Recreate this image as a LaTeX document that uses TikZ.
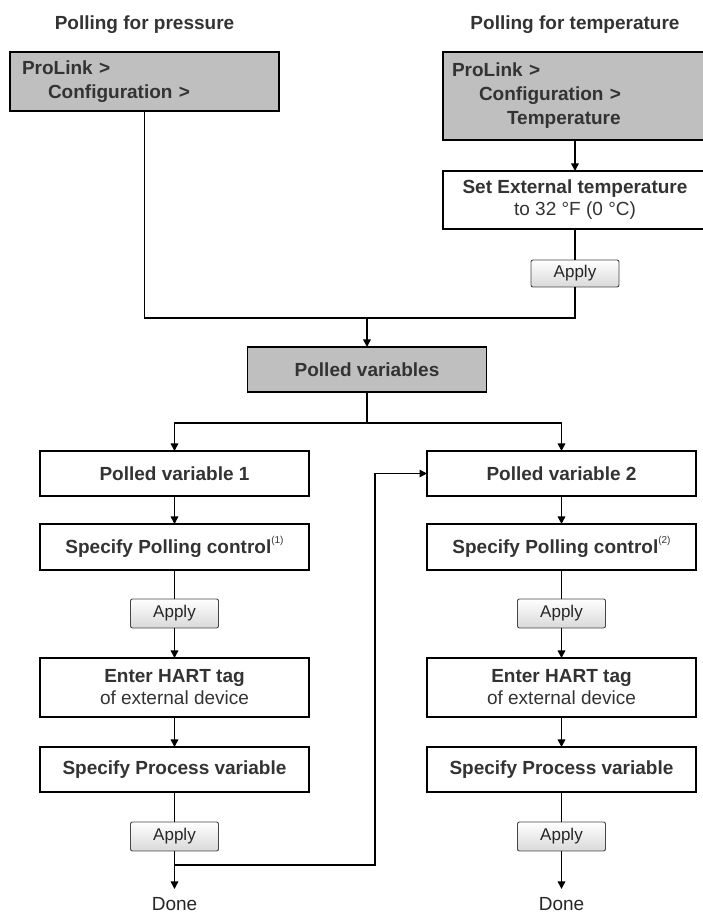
\documentclass[tikz,border=0pt]{standalone}
\usepackage{fontspec}
\setmainfont{Liberation Sans}
\usetikzlibrary{arrows.meta,positioning}

\newcommand{\fnmark}[1]{\raisebox{0.5em}{\fontsize{10}{10}\selectfont\mdseries(#1)}}

\begin{document}
\begin{tikzpicture}[
  x=1pt, y=1pt,
  node distance=29pt,
  heading/.style={font=\fontsize{19}{22}\selectfont\bfseries, text=black!80,
                  inner sep=0pt, text height=13.6pt, text depth=0pt},
  menu/.style={rectangle, draw, line width=1.5pt, outer sep=0pt, fill=gray!50,
               align=left, font=\fontsize{19}{24}\selectfont\bfseries, text=black!80},
  stepbox/.style={rectangle, draw, line width=1.5pt, outer sep=0pt, fill=white,
                  minimum width=269pt, minimum height=45pt, align=center,
                  font=\fontsize{19}{22}\selectfont\bfseries, text=black!80},
  button/.style={rectangle, draw=gray!55!black, line width=0.9pt, outer sep=0pt,
                 rounded corners=2pt, top color=white, bottom color=gray!30,
                 minimum width=88pt, minimum height=29pt,
                 font=\fontsize{17}{19}\selectfont, text=black!85},
  done/.style={inner sep=0pt, text height=14pt, text depth=0pt,
               font=\fontsize{19}{22}\selectfont, text=black!85},
  link/.style={line width=1.5pt},
  flow/.style={-{Triangle[length=7.5pt,width=7.5pt]}, line width=1.5pt},
  tail/.style={flow, shorten >=7pt},
]
\useasboundingbox (0,0) rectangle (703,916);

% Menu paths and headings
\node[menu, anchor=north west, inner xsep=12pt, text width=245pt, minimum height=59pt]
  (menuP) at (10,864) {ProLink >\\\hspace*{26pt}Configuration >};
\node[menu, anchor=north west, inner xsep=9pt, text width=246pt, minimum height=88pt]
  (menuT) at (443,864) {ProLink >\\\hspace*{27pt}Configuration >\\\hspace*{55pt}Temperature};
\node[heading, above=22pt of menuP] (ttlP) {Polling for pressure};
\node[heading, above=22pt of menuT] (ttlT) {Polling for temperature};

% Temperature branch
\node[stepbox, minimum width=264pt, minimum height=58pt, below=31pt of menuT] (setT)
  {Set External temperature\\{\mdseries to 32 °F (0 °C)}};
\node[button, minimum height=27pt, below=31pt of setT] (okT) {Apply};

% Polled variables
\coordinate (jtop) at (367,598);
\node[stepbox, fill=gray!50, minimum width=239pt, below=29pt of jtop] (pvars) {Polled variables};
\coordinate[below=31pt of pvars] (jsplit);

% Column 1
\node[stepbox, anchor=north] (pv1) at (174.5,465) {Polled variable 1};
\node[stepbox, minimum height=46pt, below=28pt of pv1] (pc1) {Specify Polling control\fnmark{1}};
\node[button, below=of pc1] (ok1) {Apply};
\node[stepbox, minimum height=59pt, below=30pt of ok1] (hart1)
  {Enter HART tag\\{\mdseries of external device}};
\node[stepbox, below=30pt of hart1] (proc1) {Specify Process variable};
\node[button, below=30pt of proc1] (ok1b) {Apply};
\node[done, below=45pt of ok1b] (done1) {Done};
\path (ok1b.south) ++(0,-14) coordinate (fb);

% Column 2
\node[stepbox, anchor=north] (pv2) at (561.5,465) {Polled variable 2};
\node[stepbox, minimum height=46pt, below=28pt of pv2] (pc2) {Specify Polling control\fnmark{2}};
\node[button, below=of pc2] (ok2) {Apply};
\node[stepbox, minimum height=59pt, below=30pt of ok2] (hart2)
  {Enter HART tag\\{\mdseries of external device}};
\node[stepbox, below=30pt of hart2] (proc2) {Specify Process variable};
\node[button, below=30pt of proc2] (ok2b) {Apply};
\node[done, below=45pt of ok2b] (done2) {Done};

% Top connectors
\draw[link] (menuP) |- (jtop);
\draw[flow] (menuT) -- (setT);
\draw[link] (setT) -- (okT);
\draw[link] (okT) |- (jtop);
\draw[flow] (jtop) -- (pvars);
\draw[link] (pvars) -- (jsplit);
\draw[flow] (jsplit) -| (pv1);
\draw[flow] (jsplit) -| (pv2);

% Column connectors
\draw[flow] (pv1) -- (pc1);
\draw[link] (pc1) -- (ok1);
\draw[flow] (ok1) -- (hart1);
\draw[flow] (hart1) -- (proc1);
\draw[link] (proc1) -- (ok1b);
\draw[tail] (ok1b) -- (done1);
\draw[flow] (fb) -- ++(200.5,0) |- (pv2);

\draw[flow] (pv2) -- (pc2);
\draw[link] (pc2) -- (ok2);
\draw[flow] (ok2) -- (hart2);
\draw[flow] (hart2) -- (proc2);
\draw[link] (proc2) -- (ok2b);
\draw[tail] (ok2b) -- (done2);
\end{tikzpicture}
\end{document}
